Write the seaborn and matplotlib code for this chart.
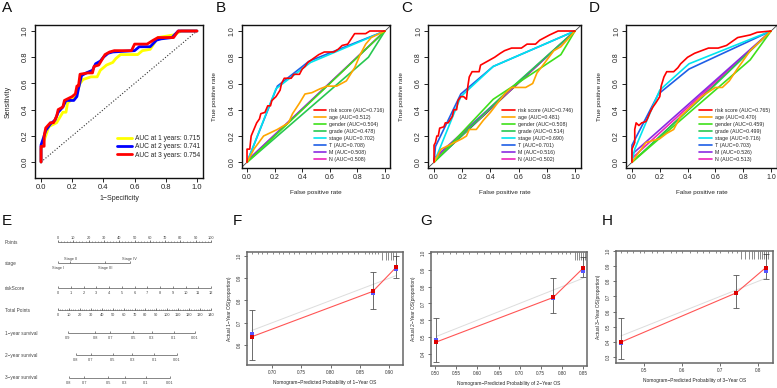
import numpy as np
import pandas as pd
import seaborn as sns
import matplotlib.pyplot as plt
import matplotlib.transforms as mtransforms

sns.set_style("ticks")
plt.rcParams['font.family'] = ['Liberation Sans', 'DejaVu Sans']

W, H = 777, 388

# ---------------- A : time dependent ROC (fpr, tpr)
a_1y = [(0, 0), (0, 0.10), (0.03, 0.20), (0.05, 0.27), (0.10, 0.30), (0.14, 0.38), (0.16, 0.38),
        (0.17, 0.45), (0.22, 0.50), (0.23, 0.53), (0.25, 0.60), (0.27, 0.63), (0.32, 0.65), (0.36, 0.65),
        (0.38, 0.70), (0.42, 0.74), (0.46, 0.76), (0.48, 0.79), (0.51, 0.82), (0.62, 0.82), (0.65, 0.85),
        (0.70, 0.86), (0.75, 0.95), (0.85, 0.97), (0.90, 1.0), (1, 1)]
a_2y = [(0, 0), (0, 0.13), (0.02, 0.20), (0.03, 0.24), (0.06, 0.29), (0.09, 0.32), (0.11, 0.38),
        (0.14, 0.42), (0.16, 0.47), (0.21, 0.47), (0.23, 0.50), (0.24, 0.56), (0.26, 0.66), (0.29, 0.68),
        (0.33, 0.70), (0.35, 0.75), (0.38, 0.77), (0.40, 0.80), (0.43, 0.83), (0.46, 0.84), (0.60, 0.85),
        (0.63, 0.88), (0.70, 0.88), (0.74, 0.93), (0.77, 0.94), (0.84, 0.95), (0.88, 1.0), (1, 1)]
a_3y = [(0, 0), (0, 0.12), (0.02, 0.12), (0.02, 0.20), (0.03, 0.26), (0.06, 0.30), (0.08, 0.30),
        (0.10, 0.35), (0.11, 0.40), (0.14, 0.42), (0.15, 0.47), (0.20, 0.50), (0.22, 0.52), (0.23, 0.58),
        (0.24, 0.58), (0.25, 0.67), (0.30, 0.68), (0.33, 0.68), (0.34, 0.73), (0.37, 0.74), (0.39, 0.78),
        (0.41, 0.82), (0.44, 0.84), (0.47, 0.85), (0.58, 0.85), (0.60, 0.90), (0.68, 0.90), (0.72, 0.93),
        (0.75, 0.95), (0.85, 0.95), (0.88, 1.0), (1, 1)]
a_labels = ['AUC at 1 years: 0.715', 'AUC at 2 years: 0.741', 'AUC at 3 years: 0.754']

# ---------------- B, C, D : ROC of clinical variables
roc_vars = ['risk score', 'age', 'gender', 'grade', 'stage', 'T', 'M', 'N']
b_auc = [0.716, 0.512, 0.504, 0.478, 0.702, 0.708, 0.508, 0.508]
c_auc = [0.746, 0.481, 0.508, 0.514, 0.690, 0.701, 0.516, 0.502]
d_auc = [0.765, 0.470, 0.459, 0.499, 0.716, 0.703, 0.526, 0.513]

b_risk = [(0, 0), (0, 0.10), (0.02, 0.10), (0.03, 0.20), (0.05, 0.25), (0.07, 0.30), (0.09, 0.33),
          (0.10, 0.37), (0.13, 0.38), (0.15, 0.43), (0.17, 0.43), (0.18, 0.47), (0.21, 0.50), (0.24, 0.55),
          (0.25, 0.60), (0.27, 0.64), (0.32, 0.64), (0.34, 0.67), (0.38, 0.67), (0.40, 0.71), (0.42, 0.73),
          (0.44, 0.76), (0.48, 0.79), (0.52, 0.82), (0.56, 0.84), (0.63, 0.84), (0.66, 0.86), (0.69, 0.89),
          (0.73, 0.90), (0.78, 0.98), (0.86, 0.98), (0.89, 1.0), (1, 1)]
b_age = [(0, 0), (0.05, 0.10), (0.12, 0.20), (0.22, 0.25), (0.30, 0.30), (0.33, 0.37), (0.38, 0.45),
         (0.42, 0.52), (0.47, 0.53), (0.53, 0.56), (0.58, 0.58), (0.65, 0.58), (0.72, 0.62), (0.78, 0.72),
         (0.82, 0.82), (0.86, 0.90), (0.90, 0.95), (1, 1)]
b_gender = [(0, 0), (0.50, 0.50), (1, 1)]
b_grade = [(0, 0), (0.88, 0.80), (1, 1)]
b_stage = [(0, 0), (0.21, 0.56), (0.46, 0.76), (1, 1)]
b_T = [(0, 0), (0.22, 0.58), (0.45, 0.77), (1, 1)]
b_M = [(0, 0), (0.01, 0.02), (1, 1)]
b_N = [(0, 0), (0.02, 0.03), (1, 1)]

c_risk = [(0, 0), (0, 0.13), (0.01, 0.15), (0.02, 0.20), (0.03, 0.20), (0.04, 0.26), (0.07, 0.27),
          (0.08, 0.30), (0.10, 0.30), (0.13, 0.35), (0.14, 0.40), (0.16, 0.40), (0.17, 0.47), (0.19, 0.50),
          (0.21, 0.50), (0.23, 0.48), (0.24, 0.58), (0.25, 0.65), (0.27, 0.69), (0.32, 0.69), (0.33, 0.74),
          (0.38, 0.77), (0.43, 0.80), (0.47, 0.83), (0.50, 0.85), (0.55, 0.87), (0.62, 0.87), (0.66, 0.90),
          (0.72, 0.90), (0.75, 0.93), (0.82, 0.97), (0.88, 1.0), (1, 1)]
c_age = [(0, 0), (0.05, 0.10), (0.20, 0.18), (0.23, 0.20), (0.25, 0.25), (0.30, 0.25), (0.35, 0.32),
         (0.40, 0.38), (0.45, 0.45), (0.50, 0.52), (0.55, 0.57), (0.65, 0.57), (0.70, 0.60), (0.73, 0.68),
         (0.78, 0.75), (0.85, 0.85), (0.90, 0.88), (1, 1)]
c_gender = [(0, 0), (0.42, 0.48), (0.90, 0.82), (1, 1)]
c_grade = [(0, 0), (0.50, 0.52), (1, 1)]
c_stage = [(0, 0), (0.02, 0.05), (0.19, 0.50), (0.42, 0.73), (1, 1)]
c_T = [(0, 0), (0.01, 0.12), (0.19, 0.52), (0.42, 0.73), (1, 1)]
c_M = [(0, 0), (0, 0.03), (1, 1)]
c_N = [(0, 0), (0, 0.02), (1, 1)]

d_risk = [(0, 0), (0, 0.10), (0.02, 0.15), (0.02, 0.25), (0.03, 0.30), (0.05, 0.28), (0.07, 0.30),
          (0.10, 0.31), (0.11, 0.33), (0.13, 0.38), (0.15, 0.42), (0.17, 0.45), (0.20, 0.50), (0.21, 0.58),
          (0.23, 0.65), (0.25, 0.69), (0.30, 0.69), (0.33, 0.72), (0.35, 0.75), (0.38, 0.78), (0.40, 0.80),
          (0.45, 0.83), (0.50, 0.85), (0.55, 0.87), (0.62, 0.87), (0.68, 0.89), (0.72, 0.92), (0.76, 0.95),
          (0.85, 0.97), (0.90, 0.99), (1, 1)]
d_age = [(0, 0), (0.10, 0.15), (0.20, 0.18), (0.25, 0.22), (0.30, 0.25), (0.35, 0.35), (0.40, 0.40),
         (0.50, 0.50), (0.60, 0.57), (0.65, 0.57), (0.70, 0.62), (0.75, 0.70), (0.85, 0.85), (1, 1)]
d_gender = [(0, 0), (0.85, 0.78), (1, 1)]
d_grade = [(0, 0), (0.50, 0.49), (1, 1)]
d_stage = [(0, 0), (0.02, 0.10), (0.20, 0.55), (0.41, 0.75), (1, 1)]
d_T = [(0, 0), (0, 0.13), (0.19, 0.52), (0.41, 0.71), (1, 1)]
d_M = [(0, 0), (0, 0.06), (1, 1)]
d_N = [(0, 0), (0, 0.03), (1, 1)]

# ---------------- E : nomogram (points scale)
nomo_rows = ['Points', 'stage', 'riskScore', 'Total Points', '1\u2212year survival',
             '2\u2212year survival', '3\u2212year survival']
stage_levels = ['Stage I', 'Stage II', 'Stage III', 'Stage IV']
stage_points = [0, 8, 31, 47]
risk_ticks = list(range(0, 13))
risk_max_points = 100          # riskScore = 12 -> 100 points
total_ticks = list(range(0, 141, 10))
total_max = 140
surv1_lab = ['0.9', '0.8', '0.7', '0.5', '0.3', '0.1', '0.01']
surv1_tot = [9, 34, 48, 69, 86, 106, 125]
surv2_lab = ['0.8', '0.7', '0.5', '0.3', '0.1', '0.01']
surv2_tot = [16.5, 30, 50, 68, 88, 109]
surv3_lab = ['0.8', '0.7', '0.5', '0.3', '0.1', '0.01']
surv3_tot = [10, 24, 46, 61, 80.5, 102.5]

# ---------------- F, G, H : calibration
f_pred = [0.665, 0.872, 0.912]
f_obs = [0.637, 0.841, 0.950]
f_corr = [0.648, 0.833, 0.940]
f_lo = [0.533, 0.763, 0.900]
f_hi = [0.758, 0.929, 1.000]
f_rug = [0.665, 0.675, 0.683, 0.692, 0.702, 0.712, 0.719, 0.729, 0.738, 0.746, 0.757, 0.766, 0.774,
         0.785, 0.794, 0.802, 0.811, 0.819, 0.830, 0.839, 0.847, 0.859, 0.865, 0.870, 0.876, 0.881]
f_rug_tall = [0.888, 0.894, 0.898, 0.903, 0.907, 0.912]

g_pred = [0.503, 0.779, 0.850]
g_obs = [0.470, 0.735, 0.910]
g_corr = [0.480, 0.730, 0.893]
g_lo = [0.351, 0.643, 0.857]
g_hi = [0.613, 0.851, 0.976]
g_rug = [0.505, 0.520, 0.535, 0.550, 0.565, 0.580, 0.600, 0.615, 0.630, 0.650, 0.665, 0.680, 0.700,
         0.715, 0.730, 0.745, 0.760, 0.775, 0.790, 0.800, 0.810, 0.820]
g_rug_tall = [0.830, 0.835, 0.840, 0.845, 0.850, 0.855]

h_pred = [0.439, 0.742, 0.820]
h_obs = [0.398, 0.723, 0.890]
h_corr = [0.393, 0.720, 0.870]
h_lo = [0.287, 0.623, 0.815]
h_hi = [0.557, 0.840, 0.980]
h_rug = [0.440, 0.455, 0.470, 0.490, 0.500, 0.520, 0.535, 0.550, 0.570, 0.585, 0.600, 0.620, 0.640,
         0.655, 0.670, 0.690, 0.700, 0.720, 0.730, 0.745]
h_rug_tall = [0.755, 0.765, 0.775, 0.785, 0.790, 0.800, 0.805, 0.810, 0.815, 0.820, 0.825]

# ============================================================
fig = plt.figure(figsize=(W / 100, H / 100), dpi=100)


def px_axes(l, t, r, b):
    return fig.add_axes([l / W, 1 - b / H, (r - l) / W, (b - t) / H])


def roc_frame(ax, fs, ybot):
    ax.set_xlim(-0.04, 1.04)
    ax.set_ylim(ybot, 1.045)
    tk = [0, 0.2, 0.4, 0.6, 0.8, 1.0]
    ax.set_xticks(tk)
    ax.set_xticklabels(['%.1f' % t for t in tk])
    ax.set_yticks(tk)
    ax.set_yticklabels(['%.1f' % t for t in tk], rotation=90, va='center')
    ax.tick_params(length=3, width=0.7, labelsize=fs, pad=1.5, colors='#222')
    for s in ax.spines.values():
        s.set_visible(True)
        s.set_color('#111')
        s.set_linewidth(1.0)


def to_df(pts):
    return pd.DataFrame(pts, columns=['fpr', 'tpr'])


# ---- A
axA = px_axes(34.8, 25.1, 203.2, 178)
roc_frame(axA, 5.5, -0.122)
axA.plot([0, 1], [0, 1], ls=':', color='#333', lw=0.8)
for pts, col, lab, z in zip([a_1y, a_2y, a_3y], ['#ffff00', '#0000ff', '#ff0000'], a_labels, [3, 4, 5]):
    d = to_df(pts)
    sns.lineplot(data=d, x='fpr', y='tpr', sort=False, estimator=None, color=col, lw=2.0,
                 label=lab, ax=axA, zorder=z)
axA.set_xlabel('1\u2212Specificity', fontsize=5, labelpad=3)
axA.set_ylabel('Sensitivity', fontsize=5, labelpad=7)
axA.legend(loc='lower right', bbox_to_anchor=(1.0, 0.11), frameon=False, fontsize=4.8,
           handlelength=2.3, labelspacing=0.2, borderaxespad=0, handletextpad=0.5)

roc_colors = ['#ff0000', '#ffa500', '#3ee01a', '#28c850', '#00e5ee', '#1e5fe6', '#8a2be2', '#ee22bb']
panels = [
    ((241.5, 25.1, 390.5, 167.5), [b_risk, b_age, b_gender, b_grade, b_stage, b_T, b_M, b_N], b_auc),
    ((428.4, 25.1, 580.6, 167.5), [c_risk, c_age, c_gender, c_grade, c_stage, c_T, c_M, c_N], c_auc),
    ((626.4, 25.1, 776.6, 167.5), [d_risk, d_age, d_gender, d_grade, d_stage, d_T, d_M, d_N], d_auc),
]
for box, curves, aucs in panels:
    ax = px_axes(*box)
    roc_frame(ax, 5, -0.04)
    ax.axline((0, 0), (1, 1), color='#444', lw=0.6, zorder=1)
    for i, (pts, col, var, auc) in enumerate(zip(curves, roc_colors, roc_vars, aucs)):
        d = to_df(pts)
        sns.lineplot(data=d, x='fpr', y='tpr', sort=False, estimator=None, color=col, lw=1.2,
                     label='%s (AUC=%.3f)' % (var, auc), ax=ax, zorder=12 - i)
    ax.set_xlabel('False positive rate', fontsize=4.6, labelpad=7)
    ax.set_ylabel('True positive rate', fontsize=4.6, labelpad=8)
    ax.legend(loc='lower left', bbox_to_anchor=(0.47, 0.025), frameon=False, fontsize=3.8,
              handlelength=2.4, labelspacing=0.38, borderaxespad=0, handletextpad=0.6)

# ---- E nomogram
pp = 1.53   # pixels per point
axE = px_axes(0, 225, 215, 388)
axE.set_xlim(-58 / pp, (215 - 58) / pp)
axE.set_ylim(388, 225)
axE.axis('off')
row_y = [242, 263, 288, 310, 333, 355, 378]
ncol = '#555'
tcol = '#444'
tfs = 2.8
for name, y in zip(nomo_rows, row_y):
    axE.text(-58 / pp + 5 / pp, y, name, fontsize=3.4, color=tcol, ha='left', va='center')

y = row_y[0]
axE.hlines(y, 0, 100, color=ncol, lw=0.5)
axE.vlines(np.arange(0, 101, 2), y, y - 1, color=ncol, lw=0.4)
axE.vlines(np.arange(0, 101, 10), y, y - 2, color=ncol, lw=0.5)
for v in range(0, 101, 10):
    axE.text(v, y - 4, str(v), fontsize=tfs, color=tcol, ha='center', va='center')

y = row_y[1]
axE.hlines(y, stage_points[0], stage_points[-1], color=ncol, lw=0.5)
axE.vlines(stage_points, y, y - 2, color=ncol, lw=0.5)
for k, (lab, p) in enumerate(zip(stage_levels, stage_points)):
    dy = -4 if k % 2 == 1 else 5
    axE.text(p, y + dy, lab, fontsize=tfs, color=tcol, ha='center', va='center')

y = row_y[2]
rx = [r * risk_max_points / risk_ticks[-1] for r in risk_ticks]
axE.hlines(y, 0, rx[-1], color=ncol, lw=0.5)
axE.vlines(rx, y, y - 2, color=ncol, lw=0.5)
for r, x in zip(risk_ticks, rx):
    axE.text(x, y + 5, str(r), fontsize=tfs, color=tcol, ha='center', va='center')

y = row_y[3]
sc = 100 / total_max
axE.hlines(y, 0, 100, color=ncol, lw=0.5)
axE.vlines(np.arange(0, total_max + 1, 2) * sc, y, y - 1, color=ncol, lw=0.4)
axE.vlines(np.array(total_ticks) * sc, y, y - 2, color=ncol, lw=0.5)
for t in total_ticks:
    axE.text(t * sc, y + 5, str(t), fontsize=tfs, color=tcol, ha='center', va='center')

for y, labs, tots in zip(row_y[4:], [surv1_lab, surv2_lab, surv3_lab], [surv1_tot, surv2_tot, surv3_tot]):
    xs = [t * sc for t in tots]
    axE.hlines(y, xs[0], xs[-1], color=ncol, lw=0.5)
    axE.vlines(xs, y, y - 2, color=ncol, lw=0.5)
    for lab, x in zip(labs, xs):
        axE.text(x, y + 5, lab, fontsize=tfs, color=tcol, ha='center', va='center')


# ---- F G H calibration
def calib(box, xlim, ylim, xt, xfmt, yt, pred, obs, corr, lo, hi, rug, rug_tall, yr):
    ax = px_axes(*box)
    ax.set_xlim(*xlim)
    ax.set_ylim(*ylim)
    ax.set_xticks(xt)
    ax.set_xticklabels([xfmt % v for v in xt])
    ax.set_yticks(yt)
    ax.set_yticklabels(['%.1f' % v for v in yt], rotation=90, va='center')
    ax.tick_params(length=2, width=0.5, labelsize=3.3, pad=1.5, colors='#333')
    for s in ax.spines.values():
        s.set_visible(True)
        s.set_color('#666')
        s.set_linewidth(1.1)
    sns.lineplot(x=[pred[0], pred[-1]], y=[pred[0], pred[-1]], color='#dddddd', lw=0.7, ax=ax)
    sns.lineplot(x=pred, y=obs, sort=False, estimator=None, color='#ff5555', lw=0.8, ax=ax)
    ax.errorbar(pred, obs, yerr=[np.array(obs) - np.array(lo), np.array(hi) - np.array(obs)],
                fmt='none', ecolor='#555', elinewidth=0.6, capsize=2, capthick=0.6)
    sns.scatterplot(x=pred, y=corr, marker='s', color='#5555ff', s=5, linewidth=0, ax=ax, zorder=4)
    sns.scatterplot(x=pred, y=obs, marker='s', color='#dd0000', s=5, linewidth=0, ax=ax, zorder=5)
    tr = mtransforms.blended_transform_factory(ax.transData, ax.transAxes)
    ax.vlines(rug, 0.985, 1.0, transform=tr, color='#333', lw=0.4)
    ax.vlines(rug_tall, 0.93, 1.0, transform=tr, color='#333', lw=0.4)
    ax.set_xlabel('Nomogram\u2212Predicted Probability of %d\u2212Year OS' % yr, fontsize=3.5, labelpad=4)
    ax.set_ylabel('Actual %d\u2212Year OS(proportion)' % yr, fontsize=3.5, labelpad=4)
    return ax


calib((247, 252, 403, 365), (0.657, 0.9235), (0.51, 1.018), [0.70, 0.75, 0.80, 0.85, 0.90], '%.2f',
      [0.6, 0.7, 0.8, 0.9, 1.0], f_pred, f_obs, f_corr, f_lo, f_hi, f_rug, f_rug_tall, 1)
calib((431, 252, 587, 366), (0.4905, 0.859), (0.327, 1.006),
      [0.50, 0.55, 0.60, 0.65, 0.70, 0.75, 0.80, 0.85], '%.2f',
      [0.4, 0.5, 0.6, 0.7, 0.8, 0.9, 1.0], g_pred, g_obs, g_corr, g_lo, g_hi, g_rug, g_rug_tall, 2)
calib((616, 251, 773, 363), (0.426, 0.839), (0.26, 1.0), [0.5, 0.6, 0.7, 0.8], '%.1f',
      [0.3, 0.4, 0.5, 0.6, 0.7, 0.8, 0.9, 1.0], h_pred, h_obs, h_corr, h_lo, h_hi, h_rug, h_rug_tall, 3)

# ---- panel letters
for lab, x, y in [('A', 2, 8), ('B', 216, 8), ('C', 401, 8), ('D', 589, 8),
                  ('E', 2, 221), ('F', 233, 221), ('G', 420, 221), ('H', 602, 221)]:
    fig.text(x / W, 1 - y / H, lab, fontsize=11, ha='left', va='center', color='#111')

fig.savefig('out.png', dpi=100)
